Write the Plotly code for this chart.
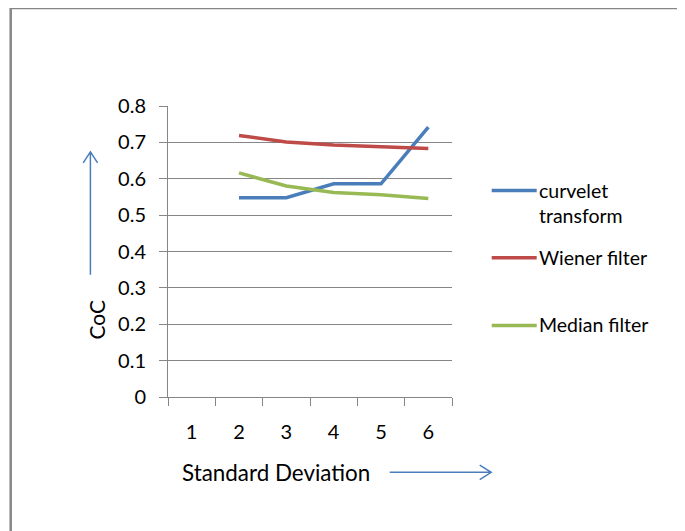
import plotly.graph_objects as go

categories = ["1", "2", "3", "4", "5", "6"]
curvelet = [None, 0.548, 0.548, 0.586, 0.586, 0.742]
wiener = [None, 0.719, 0.701, 0.693, 0.689, 0.683]
median = [None, 0.616, 0.580, 0.562, 0.556, 0.546]
series_names = ["curvelet<br>transform", "Wiener filter", "Median filter"]
colors = ["#4A7EBB", "#BE4B48", "#98B954"]

W, H = 685, 531
OFF = 8  # page body margin offset
L, R, T, B = 168.3, 452.3, 106.0, 397.3   # plot area in page pixels
FONT = "Lato"
GRAY = "#868686"

def px(x):
    return (x - L) / (R - L)

def py(y):
    return (B - y) / (B - T)

fig = go.Figure()
for name, vals, c in zip(series_names, [curvelet, wiener, median], colors):
    fig.add_trace(go.Scatter(x=categories, y=vals, mode="lines", name=name.replace("<br>", " "),
                             line=dict(color=c, width=3.5), showlegend=False))

shapes = []
annotations = []
# outer chart border
shapes.append(dict(type="rect", xref="paper", yref="paper", x0=px(11), x1=px(680),
                   y0=py(560), y1=py(8), line=dict(color=GRAY, width=2.5), layer="below"))
# legend
LFS = 19.5
leg_y = [190.7, 258.0, 325.7]
for name, c, yy in zip(series_names, colors, leg_y):
    shapes.append(dict(type="line", xref="paper", yref="paper", x0=px(492), x1=px(537),
                       y0=py(yy), y1=py(yy), line=dict(color=c, width=3.5)))
    annotations.append(dict(text=name, xref="paper", yref="paper", x=px(537.5), y=py(yy - 14),
                            xanchor="left", yanchor="top", align="left", showarrow=False,
                            font=dict(family=FONT, size=LFS, color="#000000")))
# axis titles
annotations.append(dict(text="CoC", xref="paper", yref="paper", x=px(97), y=py(320),
                        xanchor="center", yanchor="middle",
                        textangle=-90, showarrow=False, font=dict(family=FONT, size=21, color="#000")))
annotations.append(dict(text="Standard Deviation", xref="paper", yref="paper", x=px(276), y=py(473),
                        xanchor="center", yanchor="middle",
                        showarrow=False, font=dict(family=FONT, size=22.4, color="#000")))
# arrows
AC = "#4A7EBB"
shapes.append(dict(type="path", xref="paper", yref="paper",
                   path=f"M {px(90.7)} {py(275)} L {px(90.7)} {py(152)} M {px(83.5)} {py(163)} L {px(90.7)} {py(152)} L {px(97.9)} {py(163)}",
                   line=dict(color=AC, width=1.5)))
shapes.append(dict(type="path", xref="paper", yref="paper",
                   path=f"M {px(390)} {py(472.7)} L {px(491.5)} {py(472.7)} M {px(480)} {py(465.5)} L {px(491.5)} {py(472.7)} L {px(480)} {py(479.9)}",
                   line=dict(color=AC, width=1.5)))

fig.update_layout(
    width=W, height=H,
    margin=dict(l=L - OFF, r=W - (R - OFF), t=T - OFF, b=H - (B - OFF), pad=0),
    paper_bgcolor="white", plot_bgcolor="white",
    font=dict(family=FONT, size=20, color="#000000"),
    shapes=shapes, annotations=annotations, showlegend=False,
    xaxis=dict(type="category", range=[-0.5, 5.5], tickson="boundaries", ticks="outside",
               ticklen=8, tickcolor=GRAY, showline=True, linecolor=GRAY, linewidth=1,
               showgrid=False, zeroline=False, ticklabelstandoff=17,
               tickfont=dict(family=FONT, size=20)),
    yaxis=dict(range=[0, 0.8], dtick=0.1, tick0=0, ticks="outside", ticklen=8, tickcolor=GRAY,
               showline=True, linecolor=GRAY, linewidth=1, showgrid=True, gridcolor=GRAY,
               gridwidth=1, zeroline=False, ticklabelstandoff=9,
               tickfont=dict(family=FONT, size=20)),
)
fig.write_html("out.html")
